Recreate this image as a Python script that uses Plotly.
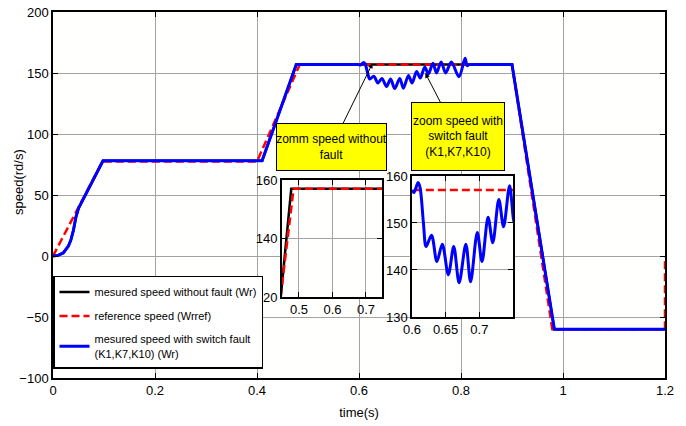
import plotly.graph_objects as go

# ---------------- data ----------------
# measured speed without fault (Wr)
t_nofault = [0, 0.01, 0.02, 0.03, 0.035, 0.04, 0.045, 0.05, 0.098, 0.41, 0.477, 0.9, 0.983, 1.2]
w_nofault = [0, 0.5, 2.5, 8, 13, 21, 32, 39, 78, 78, 157, 157, -60, -60]

# reference speed (Wrref)
t_ref = [0, 0.097, 0.4, 0.484, 0.9, 0.979, 1.2, 1.2]
w_ref = [0, 77.5, 77.5, 157, 157, -60, -60, 0]

# measured speed with switch fault (K1,K7,K10): oscillating segment
t_fault = [0.6, 0.603, 0.609, 0.612, 0.617, 0.621, 0.629, 0.637, 0.645, 0.654, 0.662,
           0.670, 0.680, 0.687, 0.697, 0.704, 0.713, 0.720, 0.729, 0.736, 0.745,
           0.752, 0.761, 0.770, 0.781, 0.796, 0.808, 0.812, 0.816]
w_fault = [157, 156.5, 158.6, 157.5, 150, 145, 147.4, 141.8, 145.5, 139, 145,
           137.3, 145.5, 137.5, 148, 141.8, 151.2, 145.8, 155, 149.2, 157.9,
           150, 159, 150, 159, 147, 162, 156, 157]

x_ticks = [0, 0.2, 0.4, 0.6, 0.8, 1, 1.2]
y_ticks = [-100, -50, 0, 50, 100, 150, 200]
inset1_xticks = [0.5, 0.6, 0.7]
inset1_yticks = [120, 140, 160]
inset2_xticks = [0.6, 0.65, 0.7]
inset2_yticks = [130, 140, 150, 160]

FONT = "Liberation Sans, Arial, sans-serif"
BLUE = "#0000ff"
RED = "#ff0000"

# blue = no-fault curve outside the fault window, oscillation inside it
pre_t = [t for t in t_nofault if t < t_fault[0]] + [t_fault[0]]
pre_w = [w for t, w in zip(t_nofault, w_nofault) if t < t_fault[0]] + [w_fault[0]]
post_t = [t_fault[-1]] + [t for t in t_nofault if t > t_fault[-1]]
post_w = [w_fault[-1]] + [w for t, w in zip(t_nofault, w_nofault) if t > t_fault[-1]]

fig = go.Figure()

def add_set(xa, ya, show_black, show_blue, legend):
    if show_black:
        fig.add_trace(go.Scatter(x=t_nofault, y=w_nofault, mode="lines", xaxis=xa, yaxis=ya,
                                 line=dict(color="black", width=2.5),
                                 name="mesured speed without fault (Wr)",
                                 legendgroup="a", showlegend=legend))
    fig.add_trace(go.Scatter(x=t_ref, y=w_ref, mode="lines", xaxis=xa, yaxis=ya,
                             line=dict(color=RED, width=2.5, dash="8px,4px"),
                             name="reference speed (Wrref)",
                             legendgroup="b", showlegend=legend))
    if show_blue:
        fig.add_trace(go.Scatter(x=pre_t, y=pre_w, mode="lines", xaxis=xa, yaxis=ya,
                                 line=dict(color=BLUE, width=3),
                                 name="mesured speed with switch fault<br>(K1,K7,K10) (Wr)",
                                 legendgroup="c", showlegend=legend))
        fig.add_trace(go.Scatter(x=t_fault, y=w_fault, mode="lines", xaxis=xa, yaxis=ya,
                                 line=dict(color=BLUE, width=3, shape="spline", smoothing=0.9),
                                 legendgroup="c", showlegend=False))
        fig.add_trace(go.Scatter(x=post_t, y=post_w, mode="lines", xaxis=xa, yaxis=ya,
                                 line=dict(color=BLUE, width=3),
                                 legendgroup="c", showlegend=False))

add_set("x", "y", True, True, True)
add_set("x2", "y2", True, False, False)
add_set("x3", "y3", False, True, False)

axis_common = dict(showline=True, linecolor="black", linewidth=1.5, mirror="ticks",
                   ticks="inside", ticklen=5, tickcolor="black", tickwidth=1,
                   showgrid=True, gridcolor="#a3a3a3", gridwidth=1, zeroline=False,
                   automargin=False,
                   tickfont=dict(family=FONT, size=13, color="black"))

fig.update_layout(
    width=686, height=426,
    margin=dict(l=53, r=21, t=12, b=48),
    paper_bgcolor="white", plot_bgcolor="#fffffe",
    showlegend=True,
    legend=dict(x=0, y=0.2787, xanchor="left", yanchor="top",
                bgcolor="white", bordercolor="black", borderwidth=1.5,
                font=dict(family=FONT, size=11, color="black"),
                traceorder="grouped", tracegroupgap=5, itemwidth=30, valign="middle"),
    xaxis=dict(axis_common, range=[0, 1.2], tickvals=x_ticks, ticktext=[str(v) for v in x_ticks],
               title=dict(text="time(s)", font=dict(family=FONT, size=13, color="black"), standoff=11)),
    yaxis=dict(axis_common, range=[-100, 200], tickvals=y_ticks),
    xaxis2=dict(axis_common, domain=[0.374, 0.5376], anchor="y2", range=[0.449, 0.748], tickvals=inset1_xticks),
    yaxis2=dict(axis_common, domain=[0.2213, 0.541], anchor="x2", range=[120, 160], tickvals=inset1_yticks),
    xaxis3=dict(axis_common, domain=[0.5866, 0.7516], anchor="y3", range=[0.6, 0.75], tickvals=inset2_xticks),
    yaxis3=dict(axis_common, domain=[0.1667, 0.552], anchor="x3", range=[130, 160], tickvals=inset2_yticks),
)

# y-axis title placed as rotated text (sits closer to tick labels than a standoff allows)
fig.add_annotation(x=-0.0572, y=0.5355, xref="paper", yref="paper", text="speed(rd/s)",
                   textangle=-90, showarrow=False, xanchor="center", yanchor="middle",
                   font=dict(family=FONT, size=13, color="black"))

fig.add_annotation(x=0.6266, y=158, xref="x", yref="y", axref="pixel", ayref="pixel",
                   ax=-41, ay=83.5, text="zomm speed without<br>fault", showarrow=True,
                   arrowhead=2, arrowsize=1, arrowwidth=1, arrowcolor="black", standoff=0,
                   bgcolor="#ffff00", bordercolor="black", borderwidth=1, borderpad=0,
                   width=109, height=46, font=dict(family=FONT, size=12, color="black"))
fig.add_annotation(x=0.730, y=150, xref="x", yref="y", axref="pixel", ayref="pixel",
                   ax=32.5, ay=63, text="zoom speed with<br>switch fault<br>(K1,K7,K10)", showarrow=True,
                   arrowhead=2, arrowsize=1, arrowwidth=1, arrowcolor="black", standoff=0,
                   bgcolor="#ffff00", bordercolor="black", borderwidth=1, borderpad=0,
                   width=92, height=67, font=dict(family=FONT, size=12, color="black"))

fig.write_html("out.html")
